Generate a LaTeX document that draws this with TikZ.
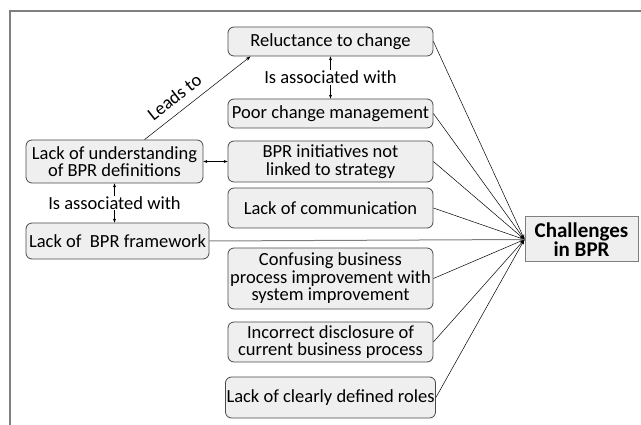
\documentclass[tikz,border=0pt]{standalone}
\usepackage{fontspec}
\setmainfont{Carlito}
\usepackage{tikz}
\usetikzlibrary{arrows.meta, calc}
\definecolor{boxfill}{HTML}{EFEFEF}
\definecolor{boxline}{HTML}{4A4A4A}
\definecolor{frame}{HTML}{7F7F7F}

\begin{document}
\begin{tikzpicture}[x=1pt, y=-1pt,
  font=\fontsize{18.5}{17.5}\selectfont,
  cause/.style={draw=boxline, fill=boxfill, rounded corners=6pt, align=center,
    inner sep=1pt, line width=0.8pt},
  target/.style={draw=frame, fill=boxfill, align=center, font=\fontsize{21}{18}\selectfont\bfseries,
    minimum width=113pt, minimum height=45pt, inner sep=1pt, line width=1pt},
  tip/.style={-{Stealth[length=5pt, width=3.5pt]}, line width=0.5pt},
  both/.style={{Stealth[length=4pt, width=3pt]}-{Stealth[length=4pt, width=3pt]}, line width=0.5pt},
  rel/.style={fill=white, inner sep=1pt}]
\useasboundingbox (0,0) rectangle (641,425);
% partial frame
\draw[frame, line width=1.2pt] (641,11) -- (10,11) -- (10,425);

% right column of causes
\node[cause, minimum width=205pt, minimum height=29pt] (reluct) at (330.5,41.5) {Reluctance to change};
\node[cause, minimum width=205pt, minimum height=29pt] (poor) at (330.5,113.5) {Poor change management};
\node[cause, minimum width=205pt, minimum height=41pt] (strat) at (330.5,161.5) {BPR initiatives not\\linked to strategy};
\node[cause, minimum width=205pt, minimum height=40pt] (comm) at (330.5,208) {Lack of communication};
\node[cause, minimum width=205pt, minimum height=61pt] (confuse) at (330.5,278.5) {Confusing business\\process improvement with\\system improvement};
\node[cause, minimum width=205pt, minimum height=40pt] (disclose) at (330.5,342) {Incorrect disclosure of\\current business process};
\node[cause, minimum width=205pt, minimum height=41pt] (roles) at (330.5,397.5) {Lack of clearly defined roles};

% left column
\node[cause, minimum width=177pt, minimum height=43pt] (underst) at (114.5,161.5) {Lack of understanding\\of BPR definitions};
\node[cause, minimum width=183pt, minimum height=36pt] (framew) at (117.5,241) {Lack of\ \ BPR framework};

\node[target] (chal) at (581.5,239.5) {Challenges\\in BPR};

% relations between causes
\draw[both] (reluct.south) -- node[rel]{Is associated with} (poor.north);
\draw[both] (underst.south) -- node[rel]{Is associated with} (underst.south |- framew.north);
\draw[both] (underst.east) -- (strat.west);
\draw[tip] ([xshift=30pt]underst.north) -- node[pos=0.37, sloped, above=5pt]{Leads to} ([xshift=-80pt]reluct.south);

% all causes into the challenge
\foreach \c in {reluct, poor, strat, comm, confuse, disclose, roles}
  \draw[tip] (\c.east) -- (chal.west);
\draw[tip, frame, line width=1pt] (framew.east) -- (chal.west);

\end{tikzpicture}
\end{document}
